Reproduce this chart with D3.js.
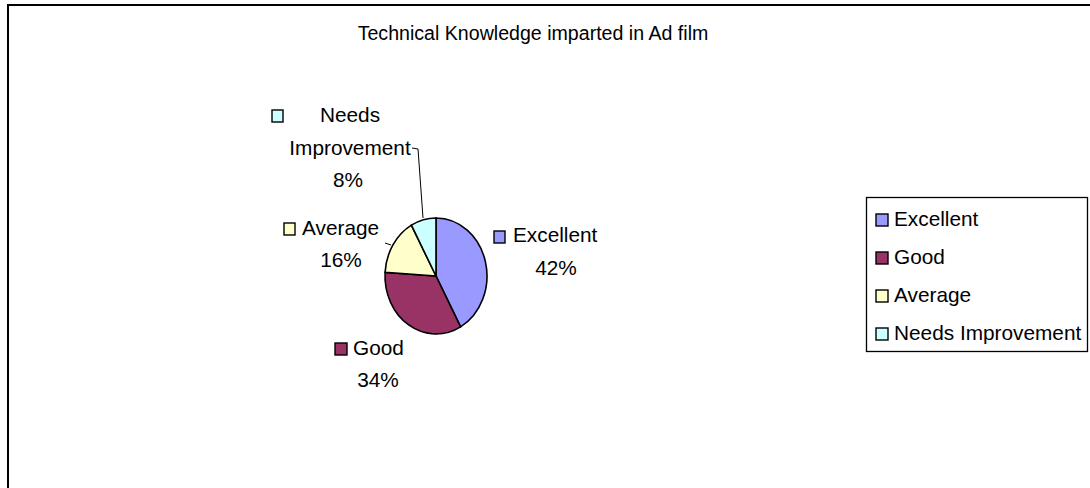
<!DOCTYPE html>
<html>
<head>
<meta charset="utf-8">
<script src="https://cdn.jsdelivr.net/npm/d3@7"></script>
<style>
  html, body { margin: 0; padding: 0; background: #fff; }
  svg text { font-family: "Liberation Sans", Arial, sans-serif; fill: #000; }
</style>
</head>
<body>
<svg id="chart" width="1090" height="488"></svg>
<script>
// Survey responses: share of respondents per rating (percent)
const title = "Technical Knowledge imparted in Ad film";
const categories = ["Excellent", "Good", "Average", "Needs Improvement"];
const shares = [42, 34, 16, 8];
const sliceColors = ["#9999FF", "#993366", "#FFFFCC", "#CCFFFF"];

// Layout
const W = 1090, H = 488;
const pieCenter = { x: 436, y: 276 };
const pieRadius = { x: 51, y: 58 };

const svg = d3.select("#chart");

// outer chart frame
svg.append("rect")
  .attr("x", 8).attr("y", 5)
  .attr("width", W + 20).attr("height", H + 20)
  .attr("fill", "#fff").attr("stroke", "#000").attr("stroke-width", 2);

// title
svg.append("text")
  .attr("x", 533).attr("y", 40)
  .attr("text-anchor", "middle")
  .style("font-size", "19.6px")
  .text(title);

const color = d3.scaleOrdinal().domain(categories).range(sliceColors);

const records = categories.map((c, i) => ({ category: c, value: shares[i] }));
const pie = d3.pie().value(d => d.value).sort(null).startAngle(0).endAngle(2 * Math.PI);
const arcs = pie(records);
const arc = d3.arc().innerRadius(0).outerRadius(1);

// pie drawn on a unit circle and stretched to the ellipse
const pieG = svg.append("g")
  .attr("transform", `translate(${pieCenter.x},${pieCenter.y}) scale(${pieRadius.x},${pieRadius.y})`);

pieG.selectAll("path")
  .data(arcs)
  .join("path")
  .attr("d", arc)
  .attr("fill", d => color(d.data.category))
  .attr("stroke", "#000")
  .attr("stroke-width", 1.6)
  .attr("vector-effect", "non-scaling-stroke");

// leader lines
svg.append("polyline")
  .attr("points", "412,148 418,149 423,218")
  .attr("fill", "none").attr("stroke", "#000").attr("stroke-width", 1);
svg.append("line")
  .attr("x1", 385).attr("y1", 243).attr("x2", 391).attr("y2", 245)
  .attr("stroke", "#000").attr("stroke-width", 1);

// data label placement (square key, name lines, percentage line)
const labelLayout = {
  "Excellent":         { sq: [494, 231, 11, 12], lines: [[513, 242, "start"]], pct: [556, 275] },
  "Good":              { sq: [335, 343, 12, 12], lines: [[353, 355, "start"]], pct: [378, 387] },
  "Average":           { sq: [284, 223, 11, 12], lines: [[302, 235, "start"]], pct: [341, 267] },
  "Needs Improvement": { sq: [272, 110, 11, 12], lines: [[350, 122, "middle"], [350, 155, "middle"]], pct: [348, 187] }
};

const total = d3.sum(shares);
const labels = svg.append("g");
records.forEach(r => {
  const L = labelLayout[r.category];
  labels.append("rect")
    .attr("x", L.sq[0]).attr("y", L.sq[1])
    .attr("width", L.sq[2]).attr("height", L.sq[3])
    .attr("fill", color(r.category)).attr("stroke", "#000").attr("stroke-width", 1.4);
  const words = L.lines.length > 1 ? r.category.split(" ") : [r.category];
  L.lines.forEach((ln, i) => {
    labels.append("text")
      .attr("x", ln[0]).attr("y", ln[1])
      .attr("text-anchor", ln[2])
      .style("font-size", "20.8px")
      .text(words[i]);
  });
  labels.append("text")
    .attr("x", L.pct[0]).attr("y", L.pct[1])
    .attr("text-anchor", "middle")
    .style("font-size", "20.8px")
    .text(d3.format(".0%")(r.value / total));
});

// legend
const legend = svg.append("g");
legend.append("rect")
  .attr("x", 866.5).attr("y", 197.5)
  .attr("width", 221).attr("height", 154)
  .attr("fill", "#fff").attr("stroke", "#000").attr("stroke-width", 1.3);

const rowY = d3.scalePoint().domain(categories).range([226, 340]);
const rows = legend.selectAll("g.row")
  .data(categories)
  .join("g")
  .attr("class", "row")
  .attr("transform", d => `translate(0,${rowY(d)})`);
rows.append("rect")
  .attr("x", 876).attr("y", -12)
  .attr("width", 12).attr("height", 12)
  .attr("fill", d => color(d)).attr("stroke", "#000").attr("stroke-width", 1.4);
rows.append("text")
  .attr("x", 894).attr("y", 0)
  .style("font-size", "20.8px")
  .text(d => d);
</script>
</body>
</html>
